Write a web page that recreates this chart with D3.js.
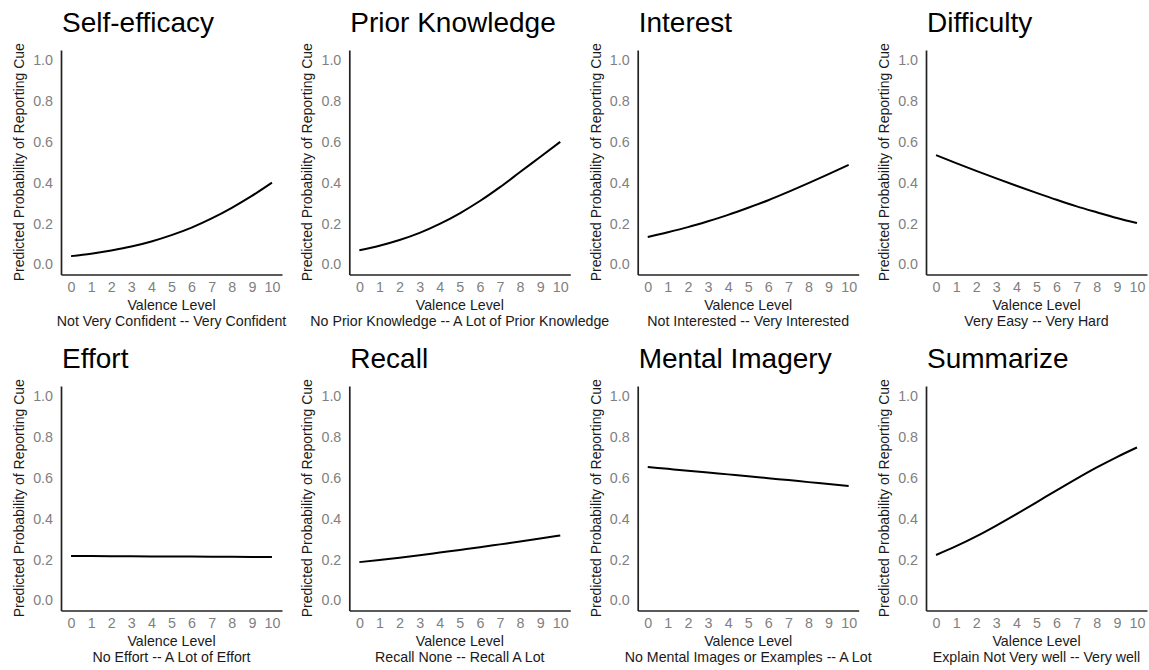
<!DOCTYPE html>
<html>
<head>
<meta charset="utf-8">
<script src="https://cdn.jsdelivr.net/npm/d3@7/dist/d3.min.js"></script>
<style>
  html, body { margin: 0; padding: 0; background: #ffffff; }
  svg { display: block; font-family: "Liberation Sans", Arial, Helvetica, sans-serif; }
</style>
</head>
<body>
<svg id="chart" width="1149" height="670"></svg>
<script>
// ---------- data ----------
const valence = [0, 1, 2, 3, 4, 5, 6, 7, 8, 9, 10];
const yTicks = [0.0, 0.2, 0.4, 0.6, 0.8, 1.0];

const panelTitles = ["Self-efficacy", "Prior Knowledge", "Interest", "Difficulty",
                     "Effort", "Recall", "Mental Imagery", "Summarize"];
const xAxisTitle = "Valence Level";
const yAxisTitle = "Predicted Probability of Reporting Cue";
const anchorLabels = [
  "Not Very Confident -- Very Confident",
  "No Prior Knowledge -- A Lot of Prior Knowledge",
  "Not Interested -- Very Interested",
  "Very Easy -- Very Hard",
  "No Effort -- A Lot of Effort",
  "Recall None -- Recall A Lot",
  "No Mental Images or Examples -- A Lot",
  "Explain Not Very well -- Very well"
];

const selfEfficacy   = [0.040, 0.052, 0.068, 0.087, 0.112, 0.143, 0.180, 0.225, 0.277, 0.335, 0.400];
const priorKnowledge = [0.069, 0.091, 0.119, 0.154, 0.198, 0.250, 0.310, 0.378, 0.452, 0.526, 0.600];
const interest       = [0.134, 0.157, 0.182, 0.211, 0.242, 0.277, 0.314, 0.355, 0.398, 0.442, 0.487];
const difficulty     = [0.535, 0.496, 0.458, 0.421, 0.385, 0.350, 0.316, 0.284, 0.255, 0.227, 0.202];
const effort         = [0.217, 0.2165, 0.216, 0.2155, 0.215, 0.2145, 0.214, 0.2135, 0.213, 0.2125, 0.212];
const recall         = [0.187, 0.198, 0.209, 0.221, 0.234, 0.247, 0.260, 0.274, 0.288, 0.303, 0.318];
const mentalImagery  = [0.653, 0.644, 0.635, 0.626, 0.617, 0.608, 0.598, 0.589, 0.579, 0.570, 0.560];
const summarize      = [0.222, 0.265, 0.313, 0.366, 0.422, 0.480, 0.539, 0.596, 0.651, 0.702, 0.749];

const seriesList = [selfEfficacy, priorKnowledge, interest, difficulty,
                    effort, recall, mentalImagery, summarize];

// ---------- layout ----------
const svg = d3.select("#chart");
const panelW = 221, panelH = 224.5;
const colX = [61, 349.3, 637.7, 926];
const rowY = [50, 386];

seriesList.forEach((vals, i) => {
  const col = i % 4, row = Math.floor(i / 4);
  const x0 = colX[col], y0 = rowY[row];

  const x = d3.scaleLinear().domain([-0.5, 10.5]).range([x0, x0 + panelW]);
  const y = d3.scaleLinear().domain([-0.05, 1.05]).range([y0 + panelH, y0]);

  const g = svg.append("g");

  // title
  g.append("text")
    .attr("x", x0 + 1)
    .attr("y", y0 - 18)
    .attr("font-size", 28)
    .attr("fill", "#000")
    .text(panelTitles[i]);

  // y axis
  const ya = g.append("g")
    .attr("transform", `translate(${x0},0)`)
    .call(d3.axisLeft(y).tickValues(yTicks).tickFormat(d3.format(".1f"))
      .tickSizeInner(0).tickSizeOuter(0).tickPadding(8));
  // x axis
  const xa = g.append("g")
    .attr("transform", `translate(0,${y0 + panelH})`)
    .call(d3.axisBottom(x).tickValues(valence).tickFormat(d3.format("d"))
      .tickSizeInner(0).tickSizeOuter(0).tickPadding(7));

  [ya, xa].forEach(a => {
    a.select(".domain").attr("stroke", "#222").attr("stroke-width", 1.7);
    a.selectAll(".tick line").remove();
    a.selectAll(".tick text")
      .attr("fill", "#7f7f7f")
      .attr("font-size", 14.3)
      .attr("font-family", "Liberation Sans, Arial, sans-serif");
  });

  // x axis titles (two lines)
  const cx = x0 + panelW / 2;
  g.append("text")
    .attr("x", cx).attr("y", y0 + panelH + 35)
    .attr("text-anchor", "middle").attr("font-size", 14.2).attr("fill", "#1a1a1a")
    .text(xAxisTitle);
  g.append("text")
    .attr("x", cx).attr("y", y0 + panelH + 51)
    .attr("text-anchor", "middle").attr("font-size", 14.2).attr("fill", "#1a1a1a")
    .text(anchorLabels[i]);

  // y axis title
  const cy = y0 + panelH / 2;
  g.append("text")
    .attr("transform", `translate(${x0 - 37},${cy}) rotate(-90)`)
    .attr("text-anchor", "middle").attr("font-size", 14).attr("fill", "#1a1a1a")
    .text(yAxisTitle);

  // line
  const line = d3.line().x((d, j) => x(valence[j])).y(d => y(d)).curve(d3.curveMonotoneX);
  g.append("path")
    .datum(vals)
    .attr("fill", "none")
    .attr("stroke", "#000")
    .attr("stroke-width", 2)
    .attr("d", line);
});
</script>
</body>
</html>
